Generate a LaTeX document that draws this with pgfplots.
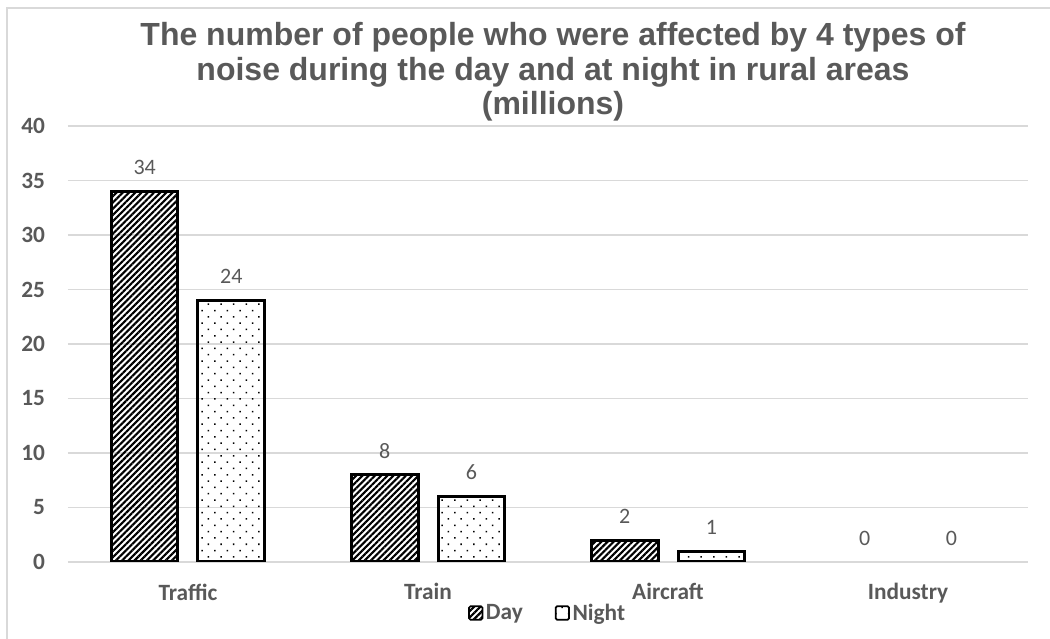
\documentclass[border=0pt]{standalone}
\usepackage{fontspec}
\setmainfont{Carlito}
\newfontfamily\titlefont{Liberation Sans}
\usepackage{pgfplots}
\pgfplotsset{compat=1.18}
\usetikzlibrary{patterns.meta}

\definecolor{txtgray}{HTML}{595959}
\definecolor{gridgray}{HTML}{D9D9D9}

\tikzset{
  daypat/.style={pattern={Lines[angle=45,distance=3.3pt,line width=1.6pt]}, pattern color=black},
  nightpat/.style={pattern={Dots[angle=45,distance=6.7pt,radius=0.8pt]}, pattern color=black},
}

\begin{document}
\begin{tikzpicture}
\useasboundingbox (-51pt,-57.75pt) rectangle (736.5pt,421.5pt);
\draw[gridgray, line width=1.2pt] (-45.75pt,-57.75pt) -- (-45.75pt,415.5pt) -- (736.5pt,415.5pt);

\begin{axis}[
    at={(0,0)}, anchor=south west,
    scale only axis,
    width=720pt, height=327pt,
    xmin=-0.5, xmax=3.5,
    ymin=0, ymax=40,
    ytick={0,5,...,40},
    xtick={0,1,2,3},
    xticklabels={Traffic,Train,Aircraft,Industry},
    major tick length=0pt,
    axis line style={draw=none},
    ymajorgrids,
    grid style={gridgray, line width=1pt},
    tick label style={font=\fontsize{17.5}{20}\selectfont\bfseries, text=txtgray},
    yticklabel style={inner sep=0pt, xshift=-17pt},
    xticklabel style={inner sep=0pt, yshift=-16pt},
    /pgf/number format/assume math mode=true,
    every node near coord/.style={font=\fontsize{16.5}{20}\selectfont, text=txtgray, anchor=center, yshift=18pt},
    legend columns=2,
    legend style={at={(axis description cs:0.5,0)}, anchor=center, yshift=-38.25pt,
      draw=none, fill=none, font=\fontsize{17.5}{20}\selectfont\bfseries, text=txtgray,
      /tikz/every even column/.append style={column sep=22pt}},
    legend image code/.code={\draw[#1, line width=1.3pt, draw=black, rounded corners=1pt] (0pt,-5pt) rectangle (10pt,5pt);},
]
\addplot[ybar, bar width=50pt, bar shift=-32.5pt, draw=black, line width=2.25pt, daypat,
  nodes near coords, every node near coord/.append style={xshift=-32.5pt}]
  coordinates {(0,34) (1,8) (2,2)};
\addlegendentry{Day}
\addplot[ybar, bar width=50pt, bar shift=32.5pt, draw=black, line width=2.25pt, nightpat,
  nodes near coords, every node near coord/.append style={xshift=32.5pt}]
  coordinates {(0,24) (1,6) (2,1)};
\addlegendentry{Night}
% zero values: labels only, no bar
\addplot[forget plot, draw=none, mark=none, nodes near coords,
  every node near coord/.append style={xshift=-32.5pt}] coordinates {(3,0)};
\addplot[forget plot, draw=none, mark=none, nodes near coords,
  every node near coord/.append style={xshift=32.5pt}] coordinates {(3,0)};
\end{axis}

\node[align=center, text=txtgray, font=\titlefont\fontsize{24}{26}\selectfont\bfseries]
  at (363.75pt,367.5pt) {The number of people who were affected by 4 types of\\noise during the day and at night in rural areas\\(millions)};
\end{tikzpicture}
\end{document}
